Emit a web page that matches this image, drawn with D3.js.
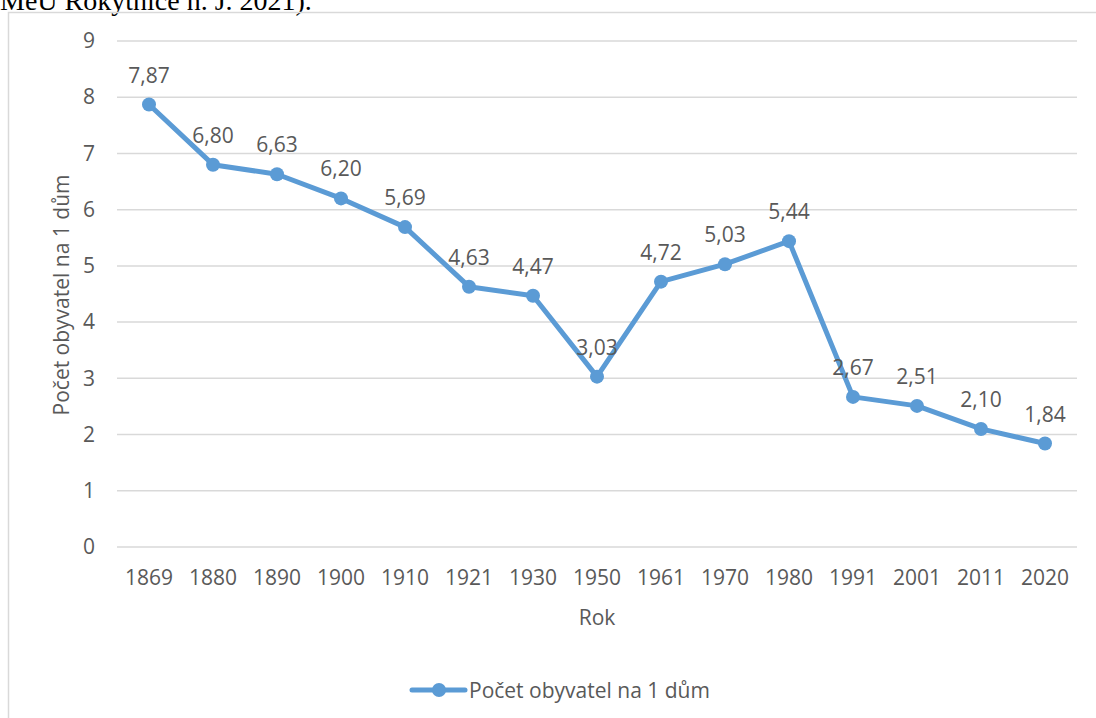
<!DOCTYPE html>
<html>
<head>
<meta charset="utf-8">
<script src="https://cdn.jsdelivr.net/npm/d3@7"></script>
<style>
  body { margin: 0; background: #fff; }
  svg { display: block; }
  text { font-family: "Open Sans", sans-serif; fill: #595959; }
</style>
</head>
<body>
<div id="chart"></div>
<script>
"use strict";
// data
const years = ["1869", "1880", "1890", "1900", "1910", "1921", "1930", "1950",
               "1961", "1970", "1980", "1991", "2001", "2011", "2020"];
const perHouse = [7.87, 6.80, 6.63, 6.20, 5.69, 4.63, 4.47, 3.03,
                  4.72, 5.03, 5.44, 2.67, 2.51, 2.10, 1.84];
const yTicks = [0, 1, 2, 3, 4, 5, 6, 7, 8, 9];
const seriesName = "Počet obyvatel na 1 dům";

let width = 1096, height = 718;
let plotLeft = 117, plotRight = 1077, plotTop = 41, plotBottom = 547;
let blue = "#5B9BD5", grid = "#D9D9D9";
let fontSize = "21px";

var svg = d3.select("#chart").append("svg")
    .attr("width", width)
    .attr("height", height);

// caption line cut off above the chart (as in the source page)
svg.append("text")
    .attr("x", 0)
    .attr("y", 10)
    .style("font-family", "'Liberation Serif', serif")
    .style("font-size", "28px")
    .style("fill", "#000")
    .text("MěÚ Rokytnice n. J. 2021).");

// chart frame
svg.append("rect")
    .attr("x", 8.5)
    .attr("y", 12.5)
    .attr("width", 1100)
    .attr("height", 720)
    .attr("fill", "none")
    .attr("stroke", grid)
    .attr("stroke-width", 1.5);

var xScale = d3.scaleBand().domain(years).range([plotLeft, plotRight]);
var yScale = d3.scaleLinear().domain([0, 9]).range([plotBottom, plotTop]);

// gridlines
svg.append("g").selectAll("line")
    .data(yTicks)
    .enter()
    .append("line")
    .attr("x1", plotLeft)
    .attr("x2", plotRight)
    .attr("y1", d => yScale(d))
    .attr("y2", d => yScale(d))
    .attr("stroke", grid)
    .attr("stroke-width", 1.5);

// y axis
var yAxis = d3.axisLeft(yScale).tickValues(yTicks).tickSize(0).tickPadding(22);
var yAxisGroup = svg.append("g")
    .attr("transform", "translate(" + plotLeft + ",0)")
    .call(yAxis);
yAxisGroup.select(".domain").remove();
yAxisGroup.selectAll("text")
    .style("font-size", fontSize)
    .style("font-family", "'Open Sans', sans-serif")
    .attr("fill", "#595959");

// x axis
var xAxis = d3.axisBottom(xScale).tickSize(0).tickPadding(23);
var xAxisGroup = svg.append("g")
    .attr("transform", "translate(0," + plotBottom + ")")
    .call(xAxis);
xAxisGroup.select(".domain").remove();
xAxisGroup.selectAll("text")
    .style("font-size", fontSize)
    .style("font-family", "'Open Sans', sans-serif")
    .attr("fill", "#595959");

// axis titles
svg.append("text")
    .attr("x", (plotLeft + plotRight) / 2)
    .attr("y", 625)
    .attr("text-anchor", "middle")
    .style("font-size", fontSize)
    .text("Rok");
svg.append("text")
    .attr("transform", "translate(69," + ((plotTop + plotBottom) / 2 + 1) + ") rotate(-90)")
    .attr("text-anchor", "middle")
    .style("font-size", fontSize)
    .text(seriesName);

var cx = (d, i) => xScale(years[i]) + xScale.bandwidth() / 2;

var line = d3.line()
    .x((d, i) => cx(d, i))
    .y(d => yScale(d));

svg.append("path")
    .datum(perHouse)
    .attr("d", line)
    .attr("fill", "none")
    .attr("stroke", blue)
    .attr("stroke-width", 5)
    .attr("stroke-linejoin", "round")
    .attr("stroke-linecap", "round");

svg.append("g").selectAll("circle")
    .data(perHouse)
    .enter()
    .append("circle")
    .attr("cx", cx)
    .attr("cy", d => yScale(d))
    .attr("r", 7)
    .attr("fill", blue);

// data labels
svg.append("g").selectAll("text")
    .data(perHouse)
    .enter()
    .append("text")
    .attr("x", cx)
    .attr("y", d => yScale(d) - 22)
    .attr("text-anchor", "middle")
    .style("font-size", fontSize)
    .text(d => d.toFixed(2).replace(".", ","));

// legend
var legend = svg.append("g");
legend.append("line")
    .attr("x1", 412)
    .attr("x2", 465)
    .attr("y1", 690)
    .attr("y2", 690)
    .attr("stroke", blue)
    .attr("stroke-width", 5)
    .attr("stroke-linecap", "round");
legend.append("circle")
    .attr("cx", 439)
    .attr("cy", 690)
    .attr("r", 7)
    .attr("fill", blue);
legend.append("text")
    .attr("x", 469)
    .attr("y", 698)
    .style("font-size", fontSize)
    .text(seriesName);
</script>
</body>
</html>
